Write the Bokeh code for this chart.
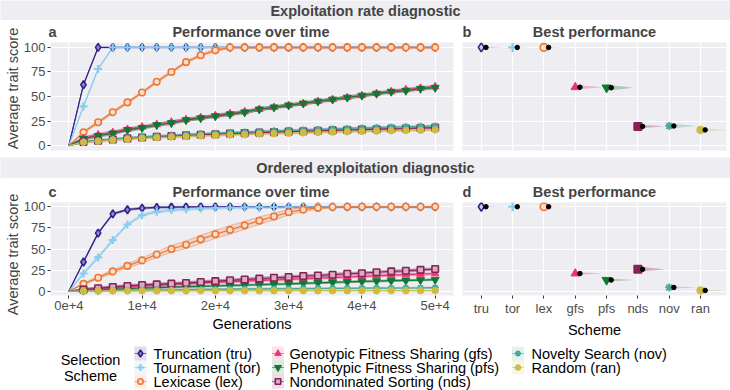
import math
from bokeh.plotting import figure
from bokeh.layouts import column, row
from bokeh.models import Label, FixedTicker, Range1d
from bokeh.core.properties import value
from bokeh.embed import file_html
from bokeh.resources import INLINE

FONT = "Liberation Sans"
PANEL_BG = "#EDEDF2"
STRIP_BG = "#EDEDF2"
TICK_COLOR = "#4D4D4D"

# ---------------- data ----------------
generations = [0, 2000, 4000, 6000, 8000, 10000, 12000, 14000, 16000, 18000, 20000,
               22000, 24000, 26000, 28000, 30000, 32000, 34000, 36000, 38000, 40000,
               42000, 44000, 46000, 48000, 50000]
gen_ticks = [0, 10000, 20000, 30000, 40000, 50000]
gen_tick_labels = ["0e+4", "1e+4", "2e+4", "3e+4", "4e+4", "5e+4"]
score_ticks = [0, 25, 50, 75, 100]

schemes = ["tru", "tor", "lex", "gfs", "pfs", "nds", "nov", "ran"]
scheme_pos = [1, 2, 3, 4, 5, 6, 7, 8]
scheme_labels = ["Truncation (tru)", "Tournament (tor)", "Lexicase (lex)",
                 "Genotypic Fitness Sharing (gfs)", "Phenotypic Fitness Sharing (pfs)",
                 "Nondominated Sorting (nds)", "Novelty Search (nov)", "Random (ran)"]
colors = ["#332288", "#88CCEE", "#EE7733", "#EE3377", "#117733", "#882255", "#44AA99", "#CCBB44"]

# Panel a: exploitation rate diagnostic, performance over time
tru_a = [0, 62, 100, 100, 100, 100, 100, 100, 100, 100, 100, 100, 100, 100, 100, 100, 100, 100, 100, 100, 100, 100, 100, 100, 100, 100]
tor_a = [0, 40, 78, 100, 100, 100, 100, 100, 100, 100, 100, 100, 100, 100, 100, 100, 100, 100, 100, 100, 100, 100, 100, 100, 100, 100]
lex_a = [0, 13.5, 23.7, 34, 44, 54, 65, 75, 85, 92, 97, 100, 100, 100, 100, 100, 100, 100, 100, 100, 100, 100, 100, 100, 100, 100]
gfs_a = [0, 7.5, 11, 13.5, 16.5, 19, 21.5, 24, 26.5, 28.5, 30.5, 32.5, 34.5, 37, 39, 41, 43, 45, 47, 49, 51, 53, 55, 57, 58.5, 60]
pfs_a = [0, 7, 10, 12.5, 16, 18, 21, 23, 26, 28, 30, 32, 34, 37, 39, 41, 43, 45, 47, 49, 51, 53, 55, 56, 58, 59]
nds_a = [0, 3.6, 5, 6.2, 7.3, 8.2, 9, 9.7, 10.4, 11, 11.6, 12.2, 12.7, 13.2, 13.7, 14.2, 14.6, 15.1, 15.5, 15.9, 16.3, 16.7, 17.1, 17.4, 17.8, 18.2]
nov_a = [0, 3.8, 5.3, 6.6, 7.8, 8.8, 9.7, 10.5, 11.3, 12, 12.6, 13.2, 13.8, 14.4, 15, 15.5, 16, 16.5, 17, 17.5, 18, 18.4, 18.8, 19.2, 19.6, 20]
ran_a = [0, 3.4, 4.5, 5.6, 6.6, 7.4, 8.1, 8.7, 9.3, 9.9, 10.4, 10.9, 11.4, 11.8, 12.2, 12.6, 13, 13.4, 13.8, 14.1, 14.4, 14.8, 15.1, 15.4, 15.7, 16]
band_a = [0.4, 0.6, 1.2, 1.5, 1.5, 0.8, 0.8, 0.8]

# Panel c: ordered exploitation diagnostic, performance over time
tru_c = [0, 34.7, 68.8, 91.5, 96.5, 98.3, 99.2, 99.6, 99.8, 100, 100, 100, 100, 100, 100, 100, 100, 100, 100, 100, 100, 100, 100, 100, 100, 100]
tor_c = [0, 21, 40, 60.5, 79, 90, 94, 96, 97, 98, 98.6, 99, 99.3, 99.5, 99.7, 99.8, 100, 100, 100, 100, 100, 100, 100, 100, 100, 100]
lex_c = [0, 8.8, 16, 23.5, 30, 36.5, 43.5, 50, 55, 61.4, 67.4, 72.6, 78, 83.5, 88.4, 93.5, 96.5, 98.6, 99.6, 100, 100, 100, 100, 100, 100, 100]
gfs_c = [0, 1.8, 3.2, 4.5, 5.7, 6.7, 7.5, 8.3, 9.1, 9.9, 10.6, 11.3, 12, 12.7, 13.4, 14.1, 14.8, 15.5, 16.2, 16.9, 17.6, 18.3, 19, 19.6, 20.2, 20.8]
pfs_c = [0, 0.8, 1.5, 2.2, 3, 3.9, 4.4, 4.9, 5.4, 5.9, 6.3, 6.8, 7.3, 7.8, 8.3, 8.8, 9.4, 9.9, 10.5, 11, 11.6, 12, 12.5, 12.9, 13.3, 13.7]
nds_c = [0, 2, 3.5, 5, 6.3, 7.4, 8.2, 9, 9.8, 10.9, 12, 13, 14, 15, 16, 16.8, 18, 18.6, 19.6, 20.7, 21.4, 22.5, 23.5, 24.2, 25.3, 26.3]
nov_c = [0, 0.4, 0.7, 1, 1.2, 1.4, 1.6, 1.8, 2, 2.2, 2.4, 2.6, 2.8, 2.9, 3, 3.1, 3.2, 3.3, 3.4, 3.5, 3.6, 3.7, 3.8, 3.9, 4, 4.2]
ran_c = [0, 0.3, 0.4, 0.4, 0.5, 0.5, 0.5, 0.5, 0.5, 0.6, 0.6, 0.6, 0.6, 0.6, 0.6, 0.7, 0.7, 0.7, 0.7, 0.7, 0.7, 0.7, 0.8, 0.8, 0.8, 0.8]
lex_c_band = [0, 1, 1.5, 2, 2.5, 3, 3.5, 4, 4.5, 4.8, 5, 5, 4.8, 4.5, 4, 3.2, 2.4, 1.5, 0.8, 0.3, 0, 0, 0, 0, 0, 0]
band_c = [1.0, 1.5, None, 1.2, 1.0, 1.5, 0.8, 0.3]

# Panels b / d: best performance
best_b = [100, 100, 100, 59.5, 59, 19.5, 20, 16]
spread_b = [0.6, 0.6, 0.6, 3, 4, 2.5, 3.5, 2.5]
best_d = [100, 100, 100, 21, 13.3, 26, 4.5, 1]
spread_d = [0.6, 0.6, 0.6, 2.5, 2.5, 4, 2, 1.5]

# density profile used for the half-violins
violin_t = [-1, -0.75, -0.5, -0.25, 0, 0.25, 0.5, 0.75, 1]
violin_w = [0, 0.12, 0.35, 0.7, 1, 0.7, 0.35, 0.12, 0]

# ---------------- styles ----------------
markers = ["diamond", "cross", "circle", "triangle", "inverted_triangle", "square", "asterisk", "circle"]
marker_fill = ["#9088CC", "#88CCEE", "#FCE0CC", "#EE3377", "#117733", "#D6AFC3", "#44AA99", "#CCBB44"]
best_fill = ["#CFCAEA", "#88CCEE", "#FCE0CC", "#EE3377", "#117733", "#882255", "#44AA99", "#CCBB44"]
marker_size = [8, 8, 6.5, 7.5, 8, 6.5, 7, 6.5]
marker_lw = [1.6, 2.2, 1.6, 1, 1, 1.6, 1.8, 1]

YLAB_W = 20
FRAME_W_A, FRAME_W_B = 405, 264
PANEL_TOP = 3


def bare(w, h, bg="white", xr=None, yr=None):
    p = figure(width=w, height=h, x_range=xr or Range1d(0, 1), y_range=yr or Range1d(0, 1),
               output_backend="svg", toolbar_location=None, title=None, min_border=0,
               x_axis_location=None, y_axis_location=None)
    p.outline_line_color = None
    p.background_fill_color = bg
    p.border_fill_color = bg
    p.xgrid.visible = False
    p.ygrid.visible = False
    return p


def style_axis(ax):
    ax.axis_line_color = None
    ax.major_tick_line_color = "#333333"
    ax.major_tick_out = 3
    ax.major_tick_in = 0
    ax.minor_tick_line_color = None
    ax.major_label_text_font = FONT
    ax.major_label_text_font_size = "13px"
    ax.major_label_text_color = TICK_COLOR
    ax.major_label_standoff = 2
    ax.axis_label_text_font = FONT
    ax.axis_label_text_font_size = "14.5px"
    ax.axis_label_text_font_style = "normal"
    ax.axis_label_text_color = "black"
    ax.axis_label_standoff = 3


def style_grid(p, xticks, yticks):
    p.xgrid.ticker = FixedTicker(ticks=xticks)
    p.ygrid.ticker = FixedTicker(ticks=yticks)
    for g in (p.xgrid, p.ygrid):
        g.grid_line_color = "white"
        g.grid_line_width = 1.2
        g.minor_grid_line_color = None


def bold_label(x, y, text, align="left"):
    return Label(x=x, y=y, x_units="screen", y_units="screen", text=text,
                 text_font=FONT, text_font_size="14.5px", text_font_style="bold",
                 text_align=align, text_baseline="middle")


def strip(text, h):
    p = bare(730, h, bg=STRIP_BG)
    p.add_layout(bold_label(365, h / 2, text, "center"))
    return p


def header(h, letter_l, letter_r):
    p = bare(730 - YLAB_W, h)
    left_a = 48 - YLAB_W
    left_b = left_a + FRAME_W_A + 4 + 5
    y = 11 - PANEL_TOP
    p.add_layout(bold_label(left_a, y, letter_l))
    p.add_layout(bold_label(left_a + FRAME_W_A / 2, y, "Performance over time", "center"))
    p.add_layout(bold_label(left_b, y, letter_r))
    p.add_layout(bold_label(left_b + FRAME_W_B / 2, y, "Best performance", "center"))
    return p


def ylab(h, y):
    p = bare(YLAB_W, h)
    p.add_layout(Label(x=12, y=y, x_units="screen", y_units="screen", text="Average trait score",
                       angle=math.pi / 2, text_font=FONT, text_font_size="14.5px",
                       text_align="center", text_baseline="middle"))
    return p


def panel_fig(width, frame_h, bottom, left, right, xr, show_x, show_y):
    p = figure(width=width, height=PANEL_TOP + frame_h + bottom, x_range=xr, y_range=Range1d(-5, 105),
               output_backend="svg", toolbar_location=None, title=None,
               x_axis_location="below" if show_x else None,
               y_axis_location="left" if show_y else None,
               min_border_left=left, min_border_right=right, min_border_top=PANEL_TOP,
               min_border_bottom=bottom)
    p.outline_line_color = None
    p.background_fill_color = PANEL_BG
    p.border_fill_color = "white"
    return p


def ts_panel(series, bands, frame_h, bottom, show_x):
    p = panel_fig(48 - YLAB_W + FRAME_W_A + 4, frame_h, bottom, 48 - YLAB_W, 4,
                  Range1d(-2500, 52500), show_x, True)
    style_grid(p, gen_ticks, score_ticks)
    p.yaxis.ticker = FixedTicker(ticks=score_ticks)
    style_axis(p.yaxis[0])
    if show_x:
        p.xaxis.ticker = FixedTicker(ticks=gen_ticks)
        p.xaxis.major_label_overrides = {t: l for t, l in zip(gen_ticks, gen_tick_labels)}
        p.xaxis.axis_label = "Generations"
        style_axis(p.xaxis[0])
    # ribbons
    for i, ys in enumerate(series):
        hw = bands[i]
        hws = hw if isinstance(hw, list) else [hw if v > 0 else 0 for v in ys]
        lo = [max(0, v - d) for v, d in zip(ys, hws)]
        hi = [min(100, v + d) for v, d in zip(ys, hws)]
        p.varea(x=generations, y1=lo, y2=hi, fill_color=colors[i], fill_alpha=0.2)
        p.line(generations, lo, line_color=colors[i], line_width=0.7, line_alpha=0.6)
        p.line(generations, hi, line_color=colors[i], line_width=0.7, line_alpha=0.6)
    for i, ys in enumerate(series):
        p.line(generations, ys, line_color=colors[i], line_width=1.2)
    for i, ys in enumerate(series):
        p.scatter(generations[1:], ys[1:], marker=markers[i], size=marker_size[i],
                  fill_color=marker_fill[i], line_color=colors[i], line_width=marker_lw[i])
    return p


def best_panel(best, spread, frame_h, bottom, show_x):
    p = panel_fig(5 + FRAME_W_B + 4, frame_h, bottom, 5, 4, Range1d(0.4, 8.83), show_x, False)
    style_grid(p, scheme_pos, score_ticks)
    if show_x:
        p.xaxis.ticker = FixedTicker(ticks=scheme_pos)
        p.xaxis.major_label_overrides = {k: s for k, s in zip(scheme_pos, schemes)}
        p.xaxis.axis_label = "Scheme"
        style_axis(p.xaxis[0])
    xs, ys = [], []
    for pos, v, s in zip(scheme_pos, best, spread):
        xs.append([pos + 0.85 * w for w in violin_w])
        ys.append([v + s * t for t in violin_t])
    p.patches(xs, ys, fill_color=colors, fill_alpha=0.3, line_color=None)
    for i, (pos, v) in enumerate(zip(scheme_pos, best)):
        p.scatter([pos], [v], marker=markers[i], size=marker_size[i] + 1,
                  fill_color=best_fill[i], line_color=colors[i], line_width=marker_lw[i])
    p.scatter([x + 0.15 for x in scheme_pos], best, marker="circle", size=4.5,
              fill_color="black", line_color="black")
    return p


def legend_fig():
    p = bare(730, 50, xr=Range1d(0, 730), yr=Range1d(50, 0))
    p.text(x=[90, 90], y=[19, 35], text=["Selection", "Scheme"], text_font=value(FONT),
           text_font_size=value("14.5px"), text_align="center", text_baseline="middle")
    box_x = [140, 277.5, 517.5]
    text_x = [153, 289, 531]
    row_y = [13, 27, 41]
    for i, lab in enumerate(scheme_labels):
        c, r = i // 3, i % 3
        p.rect(x=[box_x[c]], y=[row_y[r]], width=12, height=14, fill_color=colors[i],
               fill_alpha=0.15, line_color=None)
        p.line([box_x[c] - 6, box_x[c] + 6], [row_y[r], row_y[r]], line_color=colors[i],
               line_width=1, line_alpha=0.6)
        p.scatter([box_x[c]], [row_y[r]], marker=markers[i], size=marker_size[i] - 1,
                  fill_color=marker_fill[i], line_color=colors[i], line_width=marker_lw[i])
        p.text(x=[text_x[c]], y=[row_y[r]], text=[lab], text_font=value(FONT),
               text_font_size=value("14.5px"), text_align="left", text_baseline="middle")
    return p


pa = ts_panel([tru_a, tor_a, lex_a, gfs_a, pfs_a, nds_a, nov_a, ran_a], band_a, 108, 7, False)
pb = best_panel(best_b, spread_b, 108, 7, False)
band_c_full = [lex_c_band if b is None else b for b in band_c]
pc = ts_panel([tru_c, tor_c, lex_c, gfs_c, pfs_c, nds_c, nov_c, ran_c], band_c_full, 104, 34, True)
pd = best_panel(best_d, spread_d, 104, 34, True)

layout = column(
    strip("Exploitation rate diagnostic", 20),
    row(ylab(137, 69), column(header(22 - PANEL_TOP, "a", "b"), row(pa, pb))),
    strip("Ordered exploitation diagnostic", 21),
    row(ylab(162, 86), column(header(24 - PANEL_TOP, "c", "d"), row(pc, pd))),
    legend_fig(),
)

open("out.html", "w").write(file_html(layout, INLINE))
